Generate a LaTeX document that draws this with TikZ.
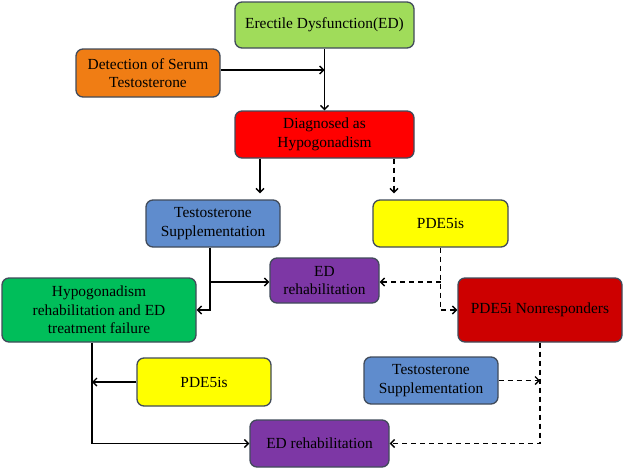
\documentclass[tikz,border=0pt]{standalone}
\usepackage{fontspec}
\setmainfont{Liberation Serif}
\usetikzlibrary{arrows.meta}
\definecolor{cEd}{RGB}{160,220,90}
\definecolor{cDet}{RGB}{240,125,20}
\definecolor{cDiag}{RGB}{255,0,0}
\definecolor{cTs}{RGB}{95,140,205}
\definecolor{cPde}{RGB}{255,255,0}
\definecolor{cEdr}{RGB}{125,55,165}
\definecolor{cHypo}{RGB}{0,190,90}
\definecolor{cNonr}{RGB}{205,0,0}
\definecolor{cBorder}{RGB}{65,75,90}
\begin{document}
\begin{tikzpicture}[x=1pt,y=-1pt,
  box/.style={draw=cBorder, line width=1.3pt, rounded corners=7pt, align=center, inner sep=0pt,
    font=\fontsize{15.4}{18.5}\selectfont},
  conn/.style={line width=1.4pt, -{Straight Barb[length=4pt,width=8pt]}},
  dconn/.style={conn, dash pattern=on 5pt off 4pt}]
\useasboundingbox (0,0) rectangle (624,469);

\node[box, fill=cEd, minimum width=179pt, minimum height=46pt] (ed) at (324.5,25) {Erectile Dysfunction(ED)};
\node[box, fill=cDet, minimum width=144pt, minimum height=48pt] (det) at (148,73) {Detection of Serum\\Testosterone};
\node[box, fill=cDiag, minimum width=179pt, minimum height=47pt] (diag) at (324.5,134.5) {Diagnosed as\\Hypogonadism};
\node[box, fill=cTs, minimum width=134pt, minimum height=47pt] (ts1) at (213,223.5) {Testosterone\\Supplementation};
\node[box, fill=cPde, minimum width=135pt, minimum height=47pt] (pde1) at (440.5,223.5) {PDE5is};
\node[box, fill=cEdr, minimum width=109pt, minimum height=45pt] (edr1) at (324.5,280.5) {ED\\rehabilitation};
\node[box, fill=cHypo, minimum width=194pt, minimum height=64pt] (hypo) at (99,310) {Hypogonadism\\rehabilitation and ED\\treatment failure};
\node[box, fill=cNonr, minimum width=164pt, minimum height=64pt] (nonr) at (540,310) {PDE5i Nonresponders};
\node[box, fill=cPde, minimum width=134pt, minimum height=48pt] (pde2) at (204,382) {PDE5is};
\node[box, fill=cTs, minimum width=134pt, minimum height=47pt] (ts2) at (431,380.5) {Testosterone\\Supplementation};
\node[box, fill=cEdr, minimum width=139pt, minimum height=47pt] (edr2) at (319.5,443.5) {ED rehabilitation};

% top part
\draw[conn] (ed.south) -- (diag.north);
\draw[conn] ([yshift=3pt]det.east) -- ([yshift=3pt]det.east -| ed.south);
\draw[conn, shorten >=6pt] ([xshift=-64.5pt]diag.south) -- ([xshift=-64.5pt]diag.south |- ts1.north);
\draw[dconn, shorten >=6pt] ([xshift=69.5pt]diag.south) -- ([xshift=69.5pt]diag.south |- pde1.north);

% middle part
\coordinate (a) at ([xshift=-3pt]ts1.south);
\draw[conn] (a) |- (hypo.east);
\draw[conn] ([yshift=-1.5pt]edr1.west -| a) -- ([yshift=-1.5pt]edr1.west);
\draw[dconn] (pde1.south) |- (nonr.west);
\draw[dconn] ([yshift=-1.5pt]edr1.east -| pde1.south) -- ([yshift=-1.5pt]edr1.east);

% bottom part
\coordinate (b) at ([xshift=-7pt]hypo.south);
\draw[conn] (b) |- (edr2.west);
\draw[conn] (pde2.west) -- (pde2.west -| b);
\draw[dconn] (nonr.south) |- (edr2.east);
\draw[dconn] (ts2.east) -- (ts2.east -| nonr.south);
\end{tikzpicture}
\end{document}
